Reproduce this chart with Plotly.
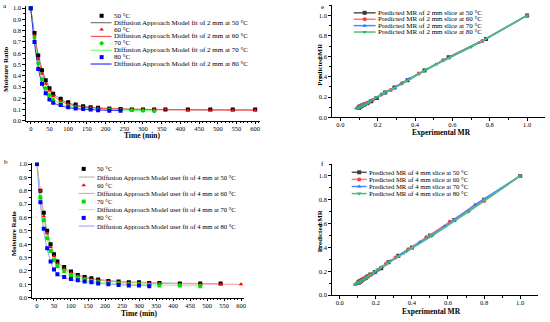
import plotly.graph_objects as go

W, H = 550, 322
SERIF = "Liberation Serif, Times New Roman, serif"

# ---------------- data ----------------
labels_temp = ["50 °C", "60 °C", "70 °C", "80 °C"]

t_long = [0, 10, 20, 30, 40, 50, 60, 80, 100, 120, 140, 160, 180, 210, 240, 270, 300, 330, 360, 420, 480, 540, 600]

# Panel a (2 mm)
t_a50 = t_long
mr_a50 = [1.0, 0.78, 0.58, 0.45, 0.36, 0.29, 0.24, 0.195, 0.165, 0.145, 0.13, 0.12, 0.115, 0.11, 0.105, 0.10, 0.10, 0.10, 0.10, 0.10, 0.10, 0.10, 0.10]
fit_a50 = [1.0, 0.77, 0.59, 0.46, 0.365, 0.295, 0.245, 0.19, 0.16, 0.14, 0.128, 0.12, 0.115, 0.11, 0.106, 0.104, 0.102, 0.101, 0.100, 0.099, 0.098, 0.097, 0.097]
t_a60 = t_long
mr_a60 = [1.0, 0.76, 0.55, 0.42, 0.33, 0.27, 0.22, 0.175, 0.15, 0.13, 0.12, 0.115, 0.11, 0.105, 0.10, 0.10, 0.10, 0.10, 0.10, 0.095, 0.095, 0.095, 0.095]
fit_a60 = [1.0, 0.75, 0.56, 0.43, 0.335, 0.27, 0.225, 0.175, 0.148, 0.132, 0.122, 0.116, 0.112, 0.107, 0.104, 0.102, 0.100, 0.099, 0.098, 0.097, 0.096, 0.095, 0.095]
t_a70 = [0, 10, 20, 30, 40, 50, 60, 80, 100, 120, 140, 160, 180, 210, 240, 270, 300, 330]
mr_a70 = [1.0, 0.74, 0.51, 0.37, 0.29, 0.23, 0.19, 0.155, 0.13, 0.12, 0.11, 0.105, 0.10, 0.10, 0.095, 0.095, 0.09, 0.085]
fit_a70 = [1.0, 0.73, 0.52, 0.38, 0.29, 0.235, 0.195, 0.15, 0.13, 0.118, 0.111, 0.106, 0.102, 0.098, 0.095, 0.093, 0.091, 0.090]
t_a80 = [0, 10, 20, 30, 40, 50, 60, 80, 100, 120, 140, 160, 180, 210, 240]
mr_a80 = [1.0, 0.70, 0.46, 0.33, 0.245, 0.19, 0.16, 0.14, 0.12, 0.11, 0.105, 0.10, 0.095, 0.09, 0.09]
fit_a80 = [1.0, 0.69, 0.47, 0.33, 0.25, 0.195, 0.163, 0.133, 0.117, 0.108, 0.103, 0.099, 0.096, 0.093, 0.091]

# Panel b (4 mm)
t_b50 = t_long[:22]
mr_b50 = [1.0, 0.80, 0.635, 0.50, 0.40, 0.325, 0.27, 0.23, 0.195, 0.17, 0.155, 0.145, 0.135, 0.125, 0.12, 0.115, 0.115, 0.11, 0.11, 0.105, 0.105, 0.105]
fit_b50 = [1.0, 0.80, 0.63, 0.50, 0.40, 0.33, 0.275, 0.225, 0.193, 0.172, 0.157, 0.146, 0.138, 0.129, 0.123, 0.119, 0.116, 0.113, 0.111, 0.108, 0.106, 0.105]
t_b60 = t_long
mr_b60 = [1.0, 0.80, 0.61, 0.48, 0.38, 0.31, 0.255, 0.215, 0.185, 0.16, 0.145, 0.135, 0.13, 0.12, 0.115, 0.11, 0.11, 0.105, 0.105, 0.10, 0.10, 0.10, 0.10]
fit_b60 = [1.0, 0.79, 0.615, 0.485, 0.385, 0.315, 0.26, 0.212, 0.183, 0.163, 0.149, 0.139, 0.131, 0.123, 0.117, 0.113, 0.110, 0.108, 0.106, 0.104, 0.102, 0.101, 0.100]
t_b70 = t_long[:21]
mr_b70 = [1.0, 0.75, 0.58, 0.445, 0.35, 0.28, 0.235, 0.20, 0.17, 0.15, 0.135, 0.125, 0.115, 0.11, 0.105, 0.10, 0.10, 0.095, 0.09, 0.09, 0.085]
fit_b70 = [1.0, 0.76, 0.575, 0.445, 0.35, 0.285, 0.238, 0.195, 0.168, 0.149, 0.135, 0.125, 0.118, 0.111, 0.106, 0.102, 0.099, 0.097, 0.095, 0.091, 0.088]
t_b80 = t_long[:18]
mr_b80 = [1.0, 0.715, 0.515, 0.37, 0.27, 0.21, 0.175, 0.155, 0.14, 0.13, 0.12, 0.115, 0.105, 0.10, 0.095, 0.09, 0.09, 0.085]
fit_b80 = [1.0, 0.70, 0.50, 0.365, 0.275, 0.215, 0.178, 0.15, 0.136, 0.126, 0.118, 0.112, 0.107, 0.101, 0.097, 0.094, 0.091, 0.089]

# ---------------- styles ----------------
pt_col = ["#000000", "#ff0000", "#00e000", "#0000ff"]
pt_sym_a = ["square", "triangle-up", "circle", "square"]
pt_sym_b = ["square", "triangle-up", "square", "square"]
fit_col_a = ["#7a7a7a", "#ff5050", "#70ff70", "#3030ff"]
fit_col_b = ["#b0b0b0", "#ff9090", "#90ff90", "#9a9aff"]
pr_col = ["#3a3a3a", "#ff3a3a", "#2a78ff", "#34b070"]
pr_line = ["#555555", "#ff7a7a", "#4a8cff", "#4cbf80"]
pr_sym = ["square", "circle", "triangle-up", "triangle-down"]

fig = go.Figure()

A = [(t_a50, mr_a50, fit_a50), (t_a60, mr_a60, fit_a60), (t_a70, mr_a70, fit_a70), (t_a80, mr_a80, fit_a80)]
B = [(t_b50, mr_b50, fit_b50), (t_b60, mr_b60, fit_b60), (t_b70, mr_b70, fit_b70), (t_b80, mr_b80, fit_b80)]

for i, (t, mr, fit) in enumerate(A):
    fig.add_trace(go.Scatter(x=t, y=fit, mode="lines", line=dict(color=fit_col_a[i], width=1, shape="spline"),
                             xaxis="x", yaxis="y", showlegend=False, hoverinfo="skip"))
for i, (t, mr, fit) in enumerate(A):
    fig.add_trace(go.Scatter(x=t, y=mr, mode="markers", marker=dict(color=pt_col[i], symbol=pt_sym_a[i], size=4),
                             xaxis="x", yaxis="y", showlegend=False))
for i, (t, mr, fit) in enumerate(B):
    fig.add_trace(go.Scatter(x=t, y=fit, mode="lines", line=dict(color=fit_col_b[i], width=1, shape="spline"),
                             xaxis="x2", yaxis="y2", showlegend=False, hoverinfo="skip"))
for i, (t, mr, fit) in enumerate(B):
    fig.add_trace(go.Scatter(x=t, y=mr, mode="markers", marker=dict(color=pt_col[i], symbol=pt_sym_b[i], size=4),
                             xaxis="x2", yaxis="y2", showlegend=False))
for i, (t, mr, fit) in enumerate(A):
    fig.add_trace(go.Scatter(x=mr, y=fit, mode="lines+markers", line=dict(color=pr_line[i], width=1.5),
                             marker=dict(color=pr_col[i], symbol=pr_sym[i], size=4),
                             xaxis="x3", yaxis="y3", showlegend=False))
for i, (t, mr, fit) in enumerate(B):
    fig.add_trace(go.Scatter(x=mr, y=fit, mode="lines+markers", line=dict(color=pr_line[i], width=1.5),
                             marker=dict(color=pr_col[i], symbol=pr_sym[i], size=4),
                             xaxis="x4", yaxis="y4", showlegend=False))

# ---------------- axes ----------------
tickfont = dict(family=SERIF, size=6.5, color="#000")
def ax(domain, rng, dtick, minor_dt, anchor, fmt, standoff=0):
    return dict(domain=domain, range=rng, tickmode="linear", tick0=0, dtick=dtick, tickformat=fmt, anchor=anchor,
                showgrid=False, zeroline=False, showline=True, linecolor="#000", linewidth=1,
                ticks="outside", ticklen=2.5, tickwidth=1, tickcolor="#000", tickfont=tickfont,
                ticklabelstandoff=standoff,
                minor=dict(dtick=minor_dt, tick0=0, ticks="outside", ticklen=1.5, tickcolor="#000", showgrid=False))

def px_x(p):
    return p / W
def px_y(p):
    return 1 - p / H

fig.update_layout(
    width=W, height=H, margin=dict(l=0, r=0, t=0, b=0),
    paper_bgcolor="white", plot_bgcolor="rgba(0,0,0,0)", showlegend=False,
    font=dict(family=SERIF, color="#000"),
    xaxis=ax([px_x(26), px_x(261)], [-13, 613], 50, 10, "y", "d", -1),
    yaxis=ax([px_y(120.7), px_y(4)], [0, 1.02], 0.1, 0.05, "x", ".1f"),
    xaxis2=ax([px_x(32), px_x(245)], [-15, 609], 50, 10, "y2", "d", -1),
    yaxis2=ax([px_y(300.3), px_y(163.3)], [0, 1.01], 0.1, 0.05, "x2", ".1f"),
    xaxis3=ax([px_x(333), px_x(547)], [-0.046, 1.096], 0.2, 0.1, "y3", ".1f", -2),
    yaxis3=ax([px_y(117.3), px_y(3.3)], [0, 1.1], 0.2, 0.1, "x3", ".1f"),
    xaxis4=ax([px_x(333), px_x(540)], [-0.044, 1.099], 0.2, 0.1, "y4", ".1f", -1),
    yaxis4=ax([px_y(297.7), px_y(164.6)], [0, 1.1], 0.2, 0.1, "x4", ".1f"),
    xaxis5=dict(domain=[0, 1], range=[0, W], visible=False, anchor="y5", fixedrange=True),
    yaxis5=dict(domain=[0, 1], range=[H, 0], visible=False, anchor="x5", fixedrange=True),
)

ann = []
def text(px, py, s, size=7, bold=False, angle=0, xanchor="left", yanchor="middle"):
    ann.append(dict(x=px_x(px), y=px_y(py), xref="paper", yref="paper", text=("<b>%s</b>" % s) if bold else s,
                    showarrow=False, xanchor=xanchor, yanchor=yanchor, textangle=angle, borderpad=0,
                    font=dict(family=SERIF, size=size, color="#000")))

# panel letters
text(2, 4, "a", 7)
text(3, 163, "b", 7)
text(321, 5, "e", 7)
text(321, 165, "f", 7)

# axis titles
text(143, 136, "Time (min)", 7.5, True, xanchor="center")
text(6, 68, "Moisture Ratio", 7, True, angle=-90, xanchor="center")
text(140, 316, "Time (min)", 7.5, True, xanchor="center")
text(14, 235, "Moisture Ratio", 7, True, angle=-90, xanchor="center")
text(443, 133, "Experimental MR", 7.5, True, xanchor="center")
text(321, 63, "Predicted MR", 7, True, angle=-90, xanchor="center")
text(433, 314, "Experimental MR", 7.5, True, xanchor="center")
text(322, 232, "Predicted MR", 7, True, angle=-90, xanchor="center")

# legend glyph helper (pixel coords on overlay axis)
def glyph_line(x0, x1, y, color, width=1):
    fig.add_trace(go.Scatter(x=[x0, x1], y=[y, y], mode="lines", line=dict(color=color, width=width),
                             xaxis="x5", yaxis="y5", hoverinfo="skip", showlegend=False))
def glyph_marker(x, y, color, sym, size=4):
    fig.add_trace(go.Scatter(x=[x], y=[y], mode="markers", marker=dict(color=color, symbol=sym, size=size),
                             xaxis="x5", yaxis="y5", hoverinfo="skip", showlegend=False))

# legend a
for i in range(4):
    y0 = 14 + 14 * i
    glyph_marker(102, y0, pt_col[i], pt_sym_a[i])
    text(113, y0, labels_temp[i], 7)
    glyph_line(91, 112, y0 + 7, fit_col_a[i], 1.2)
    text(113, y0 + 7, "Diffusion Approach Model fit of 2 mm at %s" % labels_temp[i], 7)
# legend b
for i in range(4):
    y0 = 169.5 + 16.6 * i
    glyph_marker(84, y0, pt_col[i], pt_sym_b[i])
    text(96, y0, labels_temp[i], 6.6)
    glyph_line(79, 95, y0 + 8.3, fit_col_b[i], 1)
    text(96, y0 + 8.3, "Diffusion Approach Model user fit of 4 mm at %s" % labels_temp[i], 6.6)
# legend e
for i in range(4):
    y0 = 11 + 6.5 * i
    glyph_line(355, 377, y0, pr_line[i], 1.5)
    glyph_marker(366, y0, pr_col[i], pr_sym[i])
    text(378, y0, "Predicted MR of 2 mm slice at %s" % labels_temp[i], 7)
# legend f
for i in range(4):
    y0 = 173 + 7.2 * i
    glyph_line(353, 368, y0, pr_line[i], 1.5)
    glyph_marker(360.5, y0, pr_col[i], pr_sym[i])
    text(369, y0, "Predicted MR of 4 mm slice at %s" % labels_temp[i], 6.7)

fig.update_layout(annotations=ann)
fig.write_html("out.html", config={"displayModeBar": False},
               post_script="document.body.style.margin='0';document.body.style.padding='0';")
